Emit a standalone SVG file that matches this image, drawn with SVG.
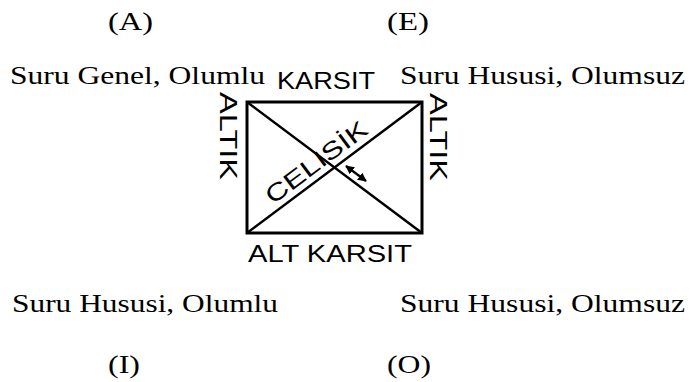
<svg xmlns="http://www.w3.org/2000/svg" width="691" height="382" viewBox="0 0 691 382">
<style>
.s{font-family:"Liberation Serif","Times New Roman",serif;font-size:26px;fill:#000}
.l{font-family:"Liberation Sans",Arial,sans-serif;font-size:24px;fill:#000}
.ln{stroke:#000;fill:none}
</style>
<defs>
<marker id="ah" viewBox="0 0 10 10" refX="9" refY="5" markerWidth="4" markerHeight="4" orient="auto-start-reverse">
<path d="M0,0 L10,5 L0,10 z" fill="#000"/>
</marker>
</defs>
<rect width="691" height="382" fill="#fff"/>
<g id="nodeA">
<text class="s" x="108" y="30" textLength="45" lengthAdjust="spacingAndGlyphs">(A)</text>
<text class="s" x="10" y="84" textLength="255" lengthAdjust="spacingAndGlyphs">Suru Genel, Olumlu</text>
</g>
<g id="nodeE">
<text class="s" x="387" y="30" textLength="42" lengthAdjust="spacingAndGlyphs">(E)</text>
<text class="s" x="400" y="84" textLength="285" lengthAdjust="spacingAndGlyphs">Suru Hususi, Olumsuz</text>
</g>
<g id="nodeI">
<text class="s" x="108" y="373" textLength="32" lengthAdjust="spacingAndGlyphs">(I)</text>
<text class="s" x="12" y="312" textLength="266" lengthAdjust="spacingAndGlyphs">Suru Hususi, Olumlu</text>
</g>
<g id="nodeO">
<text class="s" x="387" y="373" textLength="44" lengthAdjust="spacingAndGlyphs">(O)</text>
<text class="s" x="400" y="312" textLength="285" lengthAdjust="spacingAndGlyphs">Suru Hususi, Olumsuz</text>
</g>
<g id="connectors">
<rect class="ln" x="247" y="102" width="175" height="131" stroke-width="3"/>
<line class="ln" x1="247" y1="102" x2="422" y2="233" stroke-width="2.5"/>
<line class="ln" x1="247" y1="233" x2="422" y2="102" stroke-width="2.5"/>
<line class="ln" x1="346" y1="166" x2="366" y2="181" stroke-width="2.2" marker-start="url(#ah)" marker-end="url(#ah)"/>
</g>
<g id="labels">
<text class="l" x="277" y="89" textLength="98" lengthAdjust="spacingAndGlyphs">KARSIT</text>
<text class="l" x="248" y="262" font-size="25" textLength="164" lengthAdjust="spacingAndGlyphs">ALT KARSIT</text>
<text class="l" transform="translate(220,92) rotate(90)" textLength="88" lengthAdjust="spacingAndGlyphs">ALTIK</text>
<text class="l" transform="translate(430,93) rotate(90)" textLength="88" lengthAdjust="spacingAndGlyphs">ALTIK</text>
<text class="l" transform="translate(334.5,167.5) rotate(-36.8)" x="-72" y="-7" font-size="26" textLength="121" lengthAdjust="spacingAndGlyphs">CELISİK</text>
</g>
</svg>
